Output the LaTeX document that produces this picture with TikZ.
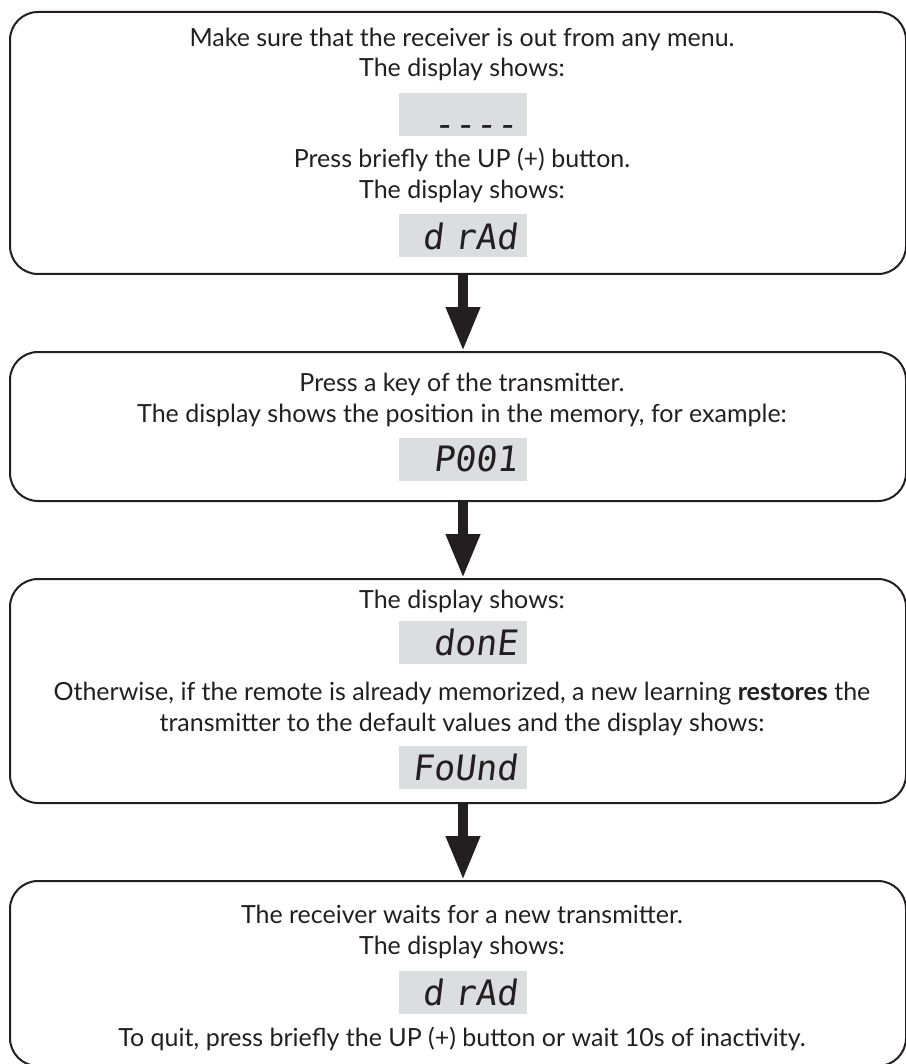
\documentclass[tikz,border=0pt]{standalone}
\usepackage{fontspec}
\setmainfont{Lato}
\newfontfamily\segfont{DejaVu Sans Mono}[FakeSlant=0.12]
\usetikzlibrary{arrows.meta}
\definecolor{ink}{HTML}{231F20}
\definecolor{dispgray}{HTML}{DCDDDE}
\begin{document}
\begin{tikzpicture}[x=1pt,y=-1pt,
  stepbox/.style={draw=ink, line width=2pt, rounded corners=28pt, minimum width=896pt, inner sep=0pt},
  txt/.style={anchor=base, inner sep=0pt, text=ink, font=\fontsize{25}{29}\selectfont},
  disp/.style={fill=dispgray, text=ink, minimum height=43pt, text width=110pt, inner xsep=9pt, inner ysep=0pt, align=right, font=\segfont\fontsize{35}{35}\selectfont},
  flow/.style={draw=ink, line width=10pt, -{Triangle[width=32pt,length=44pt]}}]
\useasboundingbox (0,0) rectangle (905,1064);
\coordinate (ax) at (463,0);
% boxes
\node[stepbox, minimum height=262pt] (b1) at (458,143) {};
\node[stepbox, minimum height=149pt] (b2) at (458,426.5) {};
\node[stepbox, minimum height=224pt] (b3) at (458,691) {};
\node[stepbox, minimum height=185pt] (b4) at (458,973.5) {};
% box 1
\node[txt] (t1a) at (462,47) {Make sure that the receiver is out from any menu.};
\node[txt] (t1b) at (462,77) {The display shows:};
\node[disp] (d1) at (463,115) {\vphantom{d}\smash{\raisebox{-0.24em}{{-}{-}{-}{-}}}};
\node[txt] (t1c) at (462,168) {Press briefly the UP (+) button.};
\node[txt] (t1d) at (462,199) {The display shows:};
\node[disp] (d2) at (463,236) {d rAd};
% box 2
\node[txt] (t2a) at (462,391) {Press a key of the transmitter.};
\node[txt] (t2b) at (462,422) {The display shows the position in the memory, for example:};
\node[disp] (d3) at (463,459) {P001};
% box 3
\node[txt] (t3a) at (462,608) {The display shows:};
\node[disp] (d4) at (463,642.5) {donE};
\node[txt] (t3b) at (462,700) {Otherwise, if the remote is already memorized, a new learning \textbf{restores} the};
\node[txt] (t3c) at (462,731) {transmitter to the default values and the display shows:};
\node[disp] (d5) at (463,767.5) {FoUnd};
% box 4
\node[txt] (t4a) at (462,923) {The receiver waits for a new transmitter.};
\node[txt] (t4b) at (462,954) {The display shows:};
\node[disp] (d6) at (463,992.5) {d rAd};
\node[txt] (t4c) at (462,1046) {To quit, press briefly the UP (+) button or wait 10s of inactivity.};
% arrows
\draw[flow] (b1.south -| ax) -- (b2.north -| ax);
\draw[flow] (b2.south -| ax) -- (b3.north -| ax);
\draw[flow] (b3.south -| ax) -- (b4.north -| ax);
\end{tikzpicture}
\end{document}
